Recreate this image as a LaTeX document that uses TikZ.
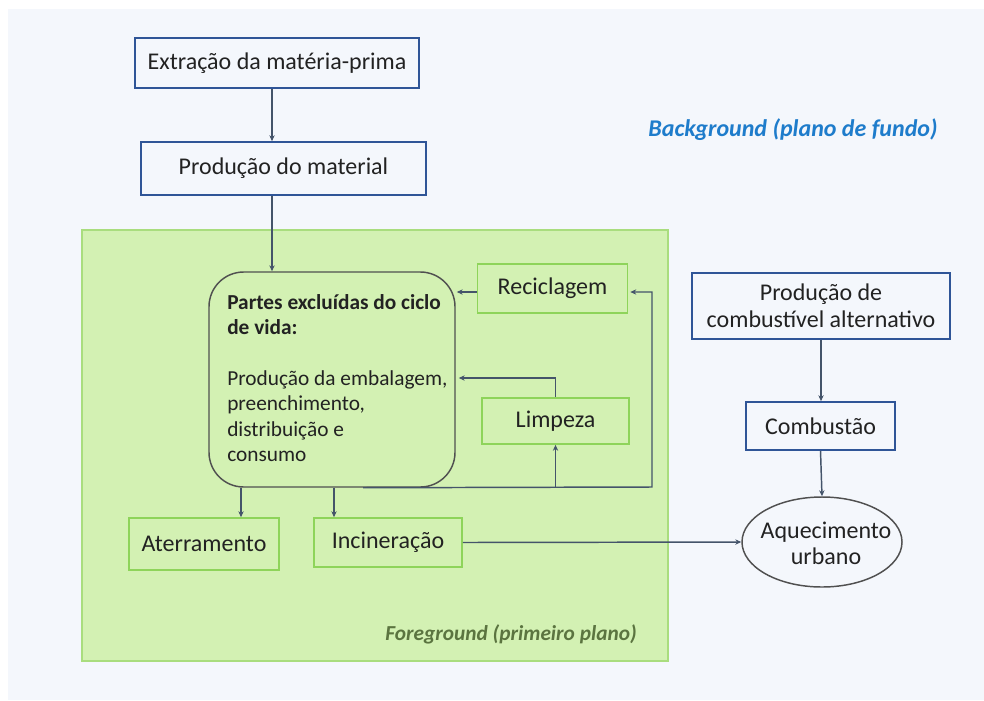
\documentclass[tikz,border=0pt]{standalone}
\usepackage{fontspec}
\setmainfont{Carlito}
\usetikzlibrary{arrows.meta,calc,shapes.geometric}
\definecolor{bgpanel}{HTML}{F4F7FC}
\definecolor{bluebox}{HTML}{2F5597}
\definecolor{fgfill}{HTML}{D3F1B3}
\definecolor{fgborder}{HTML}{A9DD7E}
\definecolor{greenbox}{HTML}{8ED45A}
\definecolor{arrowc}{HTML}{44546A}
\definecolor{corebd}{HTML}{505050}
\definecolor{txt}{HTML}{222222}
\definecolor{bglab}{HTML}{1E7CCB}
\definecolor{fglab}{HTML}{5B7440}
\begin{document}
\begin{tikzpicture}[x=0.75pt,y=-0.75pt,
  every node/.style={text=txt, font=\fontsize{18}{20.5}\selectfont, inner sep=0pt},
  bluerect/.style={draw=bluebox, fill=bgpanel, line width=1.2pt, align=center},
  greenrect/.style={draw=greenbox, fill=fgfill, line width=1.2pt, align=center},
  corebox/.style={draw=corebd, fill=fgfill, line width=1.1pt, rounded corners=26pt},
  fgarea/.style={draw=fgborder, fill=fgfill, line width=1pt},
  arr/.style={draw=arrowc, line width=1.1pt, -{Stealth[length=4.5pt,width=4pt]}}
]
\useasboundingbox (0,0) rectangle (984,700);
\fill[white] (0,0) rectangle (984,700);
\fill[bgpanel] (8,9) rectangle (984,700);

% foreground area
\node[fgarea, minimum width=439.5pt, minimum height=323.25pt] (fg) at (375,445.5) {};

% nodes
\node[bluerect, minimum width=213pt, minimum height=37.5pt] (ext) at (277,63) {Extração da matéria-prima};
\node[bluerect, minimum width=213.75pt, minimum height=39.75pt] (prod) at (283.5,168.5) {Produção do material};
\node[corebox, minimum width=184.5pt, minimum height=161.25pt] (core) at (332,379.5) {};
\node[anchor=west, align=left, font=\fontsize{16}{19}\selectfont] (coretext) at (227,378)
  {\textbf{Partes excluídas do ciclo}\\\textbf{de vida:}\\[19pt]Produção da embalagem,\\preenchimento,\\distribuição e\\consumo};
\node[greenrect, minimum width=112.5pt, minimum height=36.75pt] (recic) at (552.5,288.5) {Reciclagem};
\node[greenrect, minimum width=110.25pt, minimum height=34.5pt] (limp) at (555.5,421) {Limpeza};
\node[greenrect, minimum width=112.5pt, minimum height=39pt] (ater) at (204,544) {Aterramento};
\node[greenrect, minimum width=111pt, minimum height=36.75pt] (inci) at (388,542.5) {Incineração};
\node[bluerect, minimum width=193.5pt, minimum height=49.5pt] (pca) at (821,306) {Produção de\\combustível alternativo};
\node[bluerect, minimum width=111.75pt, minimum height=36pt] (comb) at (820.5,426) {Combustão};
\node[ellipse, draw=corebd, fill=bgpanel, line width=1.1pt, minimum width=120pt, minimum height=67.5pt] (aq) at (822,542) {};
\node[align=center, font=\fontsize{18}{19.5}\selectfont] (aqtext) at (826,543) {Aquecimento\\urbano};

% labels
\node[text=bglab, font=\fontsize{18}{20}\selectfont\bfseries\itshape] (bgl) at (793,130) {Background (plano de fundo)};
\node[text=fglab, anchor=east, font=\fontsize{16}{18}\selectfont\bfseries\itshape] (fgl) at (637,634) {Foreground (primeiro plano)};

% helper coordinates
\coordinate (c272) at (272,0);
\coordinate (c292) at (0,292);
\coordinate (c378) at (0,378);
\coordinate (c363) at (363,0);
\coordinate (c241) at (241,0);
\coordinate (c334) at (334,0);
\coordinate (loopc) at (652,487);

% connectors
\draw[arr] (ext.south -| c272) -- (prod.north -| c272);
\draw[arr] (prod.south -| c272) -- (core.north -| c272);
\draw[arr] (recic.west |- c292) -- ($(core.east |- c292)+(1,0)$);
\draw[arr] (limp.north) -- (limp.north |- c378) -- ($(core.east |- c378)+(3,0)$);
\draw[arr] (core.south -| c363) -- (loopc) -- (loopc |- c292) -- ($(recic.east |- c292)+(2,0)$);
\draw[arr] (core.south -| limp) -- (limp.south);
\draw[arr] (core.south -| c241) -- (ater.north -| c241);
\draw[arr] (core.south -| c334) -- (inci.north -| c334);
\draw[arr] (inci.east) -- (aq.west);
\draw[arr] (pca.south) -- (pca.south |- comb.north);
\draw[arr] (comb.south) -- (aq.north);
\end{tikzpicture}
\end{document}
